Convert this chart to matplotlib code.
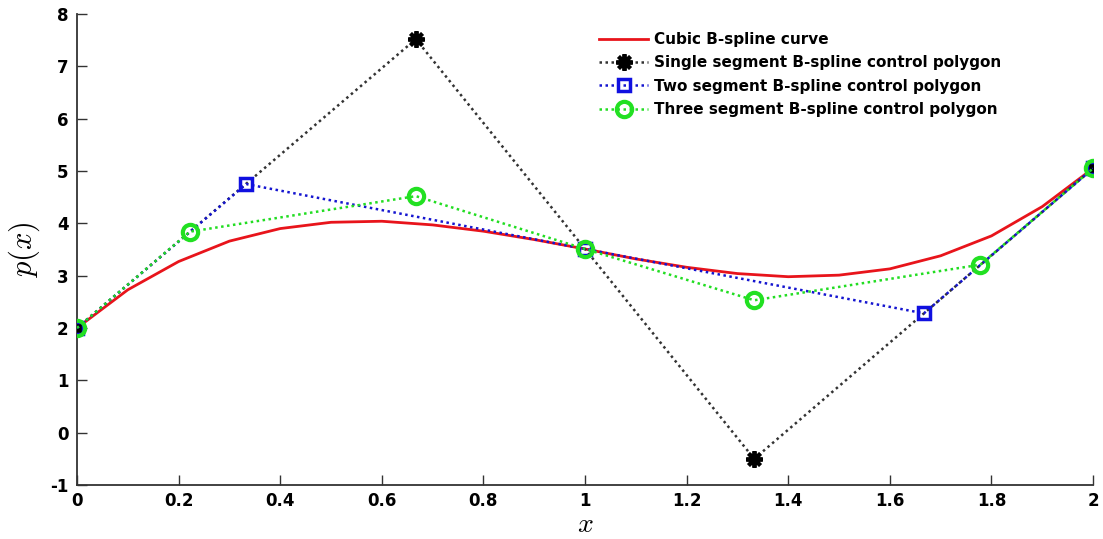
import matplotlib
matplotlib.use("Agg")
import matplotlib.pyplot as plt

plt.rcParams["mathtext.fontset"] = "cm"
plt.rcParams["axes.unicode_minus"] = False

# Cubic B-spline curve
curve_x = [0.0, 0.1, 0.2, 0.3, 0.4, 0.5, 0.6, 0.7, 0.8, 0.9, 1.0,
           1.1, 1.2, 1.3, 1.4, 1.5, 1.6, 1.7, 1.8, 1.9, 2.0]
curve_y = [2.00, 2.73, 3.27, 3.66, 3.90, 4.02, 4.04, 3.97, 3.85, 3.69, 3.51,
           3.32, 3.16, 3.04, 2.98, 3.01, 3.13, 3.38, 3.76, 4.32, 5.05]

# Control polygons
single_x = [0.0, 0.667, 1.333, 2.0]
single_y = [2.0, 7.52, -0.50, 5.05]

two_x = [0.0, 0.333, 1.0, 1.667, 2.0]
two_y = [2.0, 4.75, 3.51, 2.28, 5.05]

three_x = [0.0, 0.222, 0.667, 1.0, 1.333, 1.778, 2.0]
three_y = [2.0, 3.84, 4.52, 3.51, 2.53, 3.21, 5.05]

x_ticks = [0, 0.2, 0.4, 0.6, 0.8, 1, 1.2, 1.4, 1.6, 1.8, 2]
x_tick_labels = ["0", "0.2", "0.4", "0.6", "0.8", "1", "1.2", "1.4", "1.6", "1.8", "2"]
y_ticks = [-1, 0, 1, 2, 3, 4, 5, 6, 7, 8]
y_tick_labels = ["-1", "0", "1", "2", "3", "4", "5", "6", "7", "8"]

labels = ["Cubic B-spline curve",
          "Single segment B-spline control polygon",
          "Two segment B-spline control polygon",
          "Three segment B-spline control polygon"]

fig = plt.figure(figsize=(11.03, 5.39), dpi=100)
ax = fig.add_axes([0.0698, 0.1002, 0.9212, 0.8738])

dots = (0, (1, 1.4))
ax.plot(curve_x, curve_y, color="#e8141b", lw=2.0, label=labels[0], zorder=2)
ax.plot(single_x, single_y, color="#333333", ls=dots, lw=1.8, marker=(8, 2, 0),
        ms=12, mfc="black", mec="black", mew=2.8, label=labels[1], zorder=3)
ax.plot(two_x, two_y, color="#1515d0", ls=dots, lw=1.8, marker="s",
        ms=9, mfc="none", mec="#1010e0", mew=2.5, label=labels[2], zorder=4)
ax.plot(three_x, three_y, color="#22dd22", ls=dots, lw=1.8, marker="o",
        ms=11, mfc="none", mec="#22e022", mew=3, label=labels[3], zorder=5)

ax.set_xlim(0, 2)
ax.set_ylim(-1, 8)
ax.set_xticks(x_ticks)
ax.set_xticklabels(x_tick_labels)
ax.set_yticks(y_ticks)
ax.set_yticklabels(y_tick_labels)
for lab in ax.get_xticklabels() + ax.get_yticklabels():
    lab.set_fontweight("bold")
    lab.set_fontsize(12)
ax.tick_params(direction="in", length=7, width=1.0, color="#333333")
ax.tick_params(axis="x", pad=5)
ax.tick_params(axis="y", pad=6)
ax.spines["top"].set_visible(False)
ax.spines["right"].set_visible(False)
for s in ("left", "bottom"):
    ax.spines[s].set_linewidth(1.3)
    ax.spines[s].set_color("#333333")

ax.set_xlabel("$x$", fontsize=20, labelpad=0)
ax.set_ylabel("$p(x)$", fontsize=22, labelpad=6)

leg = ax.legend(loc="upper left", bbox_to_anchor=(0.508, 0.975), frameon=False,
                prop={"weight": "bold", "size": 11}, handlelength=3.2,
                handletextpad=0.4, labelspacing=0.55, borderaxespad=0)

fig.savefig("out.png", dpi=100)
